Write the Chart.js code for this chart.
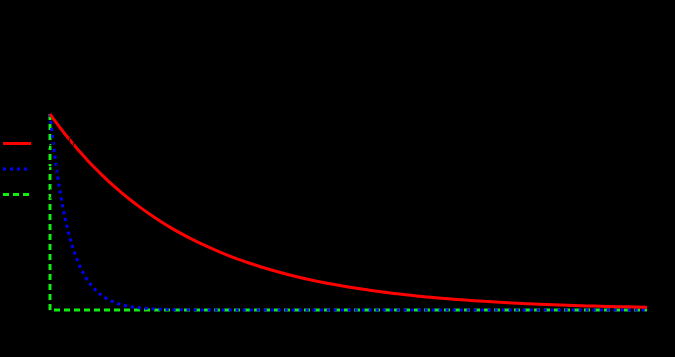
<!DOCTYPE html>
<html lang="en">
<head>
    <meta charset="UTF-8">
    <title>Decay responses</title>
    <style>
        html, body { margin: 0; padding: 0; background: #000; }
        #wrap { width: 675px; height: 357px; }
    </style>
</head>
<body>
    <div id="wrap"><canvas id="chart" width="675" height="357"></canvas></div>

    <script src="https://cdn.jsdelivr.net/npm/chart.js"></script>
    <script>
        // values
        const times = [0, 0.25, 0.5, 0.75, 1, 1.25, 1.5, 1.75, 2, 2.5, 3, 3.5, 4, 4.5, 5,
            6, 7, 8, 9, 10, 11, 12, 13, 14, 15, 16, 17, 18, 19, 20,
            21, 22, 23, 24, 25, 26, 27, 28, 29, 30];
        const slowValues = [1, 0.965, 0.931, 0.898, 0.867, 0.837, 0.807, 0.779, 0.751, 0.700, 0.651, 0.607, 0.565, 0.526, 0.490,
            0.424, 0.368, 0.319, 0.276, 0.240, 0.208, 0.180, 0.156, 0.135, 0.117, 0.102, 0.088, 0.077, 0.066, 0.057,
            0.050, 0.043, 0.037, 0.032, 0.028, 0.024, 0.021, 0.018, 0.016, 0.014];
        const fastValues = [1, 0.779, 0.607, 0.472, 0.368, 0.287, 0.223, 0.174, 0.135, 0.082, 0.050, 0.030, 0.018, 0.011, 0.007,
            0.002, 0.001, 0, 0, 0, 0, 0, 0, 0, 0, 0, 0, 0, 0, 0,
            0, 0, 0, 0, 0, 0, 0, 0, 0, 0];
        const impulseTimes = [0, 0, 30];
        const impulseValues = [1, 0, 0];
        const seriesLabels = ['exp(-t/7)', 'exp(-t)', 'δ(t)'];

        const toPoints = (xs, ys) => xs.map((x, i) => ({ x: x, y: ys[i] }));

        // legend drawn at the left edge, like the original
        const sideLegend = {
            id: 'sideLegend',
            afterDraw(chart) {
                const ctx = chart.ctx;
                chart.data.datasets.forEach((ds, i) => {
                    const y = 143.5 + i * 25.5;
                    ctx.save();
                    ctx.strokeStyle = ds.borderColor;
                    ctx.lineWidth = ds.borderWidth;
                    ctx.setLineDash(ds.borderDash || []);
                    ctx.beginPath();
                    ctx.moveTo(3, y);
                    ctx.lineTo(31, y);
                    ctx.stroke();
                    ctx.fillStyle = '#000';
                    ctx.font = '11px "DejaVu Sans"';
                    ctx.textBaseline = 'middle';
                    ctx.fillText(ds.label, 34, y);
                    ctx.restore();
                });
            }
        };

        new Chart(document.getElementById('chart'), {
            type: 'line',
            data: {
                datasets: [
                    {
                        label: seriesLabels[0],
                        data: toPoints(times, slowValues),
                        borderColor: '#ff0000',
                        borderWidth: 3,
                        pointRadius: 0,
                        clip: 4,
                        cubicInterpolationMode: 'monotone'
                    },
                    {
                        label: seriesLabels[1],
                        data: toPoints(times, fastValues),
                        borderColor: '#0000ff',
                        borderWidth: 3,
                        borderDash: [3, 4],
                        pointRadius: 0,
                        clip: 4,
                        cubicInterpolationMode: 'monotone'
                    },
                    {
                        label: seriesLabels[2],
                        data: toPoints(impulseTimes, impulseValues),
                        borderColor: '#11ee11',
                        borderWidth: 3,
                        borderDash: [6, 4],
                        pointRadius: 0,
                        clip: 4
                    }
                ]
            },
            options: {
                responsive: false,
                animation: false,
                layout: { padding: { left: 50, top: 114, right: 28, bottom: 47 } },
                scales: {
                    x: { type: 'linear', min: 0, max: 30, display: false },
                    y: { min: 0, max: 1, display: false }
                },
                plugins: {
                    legend: { display: false },
                    tooltip: { enabled: false }
                }
            },
            plugins: [sideLegend]
        });
    </script>
</body>
</html>
